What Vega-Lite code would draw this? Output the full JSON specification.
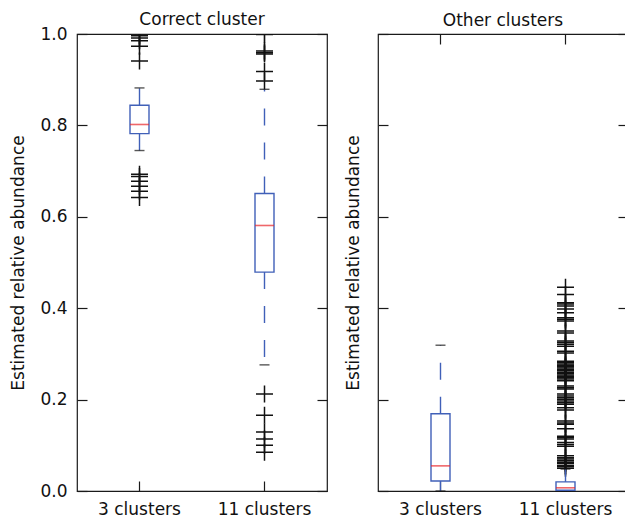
{
  "$schema": "https://vega.github.io/schema/vega-lite/v6.json",
  "padding": {"left": 9, "top": 10, "right": 0, "bottom": 0},
  "config": {
    "font": "DejaVu Sans",
    "view": {"stroke": "#1a1a1a", "strokeWidth": 1.2},
    "axis": {
      "labelFont": "DejaVu Sans",
      "labelFontSize": 17,
      "labelColor": "#111",
      "titleFont": "DejaVu Sans",
      "titleFontSize": 17,
      "titleFontWeight": "normal",
      "titleColor": "#111",
      "domain": false,
      "grid": false,
      "tickColor": "#1a1a1a",
      "tickWidth": 1.2,
      "tickSize": -10
    },
    "title": {"font": "DejaVu Sans", "fontSize": 17, "fontWeight": "normal", "color": "#111", "offset": 3}
  },
  "datasets": {
    "boxCorrect": [
      {"group": "3 clusters", "lower": 0.745, "q1": 0.782, "median": 0.802, "q3": 0.844, "upper": 0.882},
      {"group": "11 clusters", "lower": 0.276, "q1": 0.479, "median": 0.581, "q3": 0.651, "upper": 0.879}
    ],
    "outCorrect": [
      {"group": "3 clusters", "value": 0.996},
      {"group": "3 clusters", "value": 0.991},
      {"group": "3 clusters", "value": 0.985},
      {"group": "3 clusters", "value": 0.973},
      {"group": "3 clusters", "value": 0.941},
      {"group": "3 clusters", "value": 0.693},
      {"group": "3 clusters", "value": 0.688},
      {"group": "3 clusters", "value": 0.678},
      {"group": "3 clusters", "value": 0.667},
      {"group": "3 clusters", "value": 0.656},
      {"group": "3 clusters", "value": 0.642},
      {"group": "11 clusters", "value": 0.999},
      {"group": "11 clusters", "value": 0.963},
      {"group": "11 clusters", "value": 0.959},
      {"group": "11 clusters", "value": 0.956},
      {"group": "11 clusters", "value": 0.918},
      {"group": "11 clusters", "value": 0.897},
      {"group": "11 clusters", "value": 0.212},
      {"group": "11 clusters", "value": 0.166},
      {"group": "11 clusters", "value": 0.129},
      {"group": "11 clusters", "value": 0.114},
      {"group": "11 clusters", "value": 0.100},
      {"group": "11 clusters", "value": 0.085}
    ],
    "boxOther": [
      {"group": "3 clusters", "lower": 0.0, "q1": 0.022, "median": 0.055, "q3": 0.169, "upper": 0.319},
      {"group": "11 clusters", "lower": 0.0, "q1": 0.0015, "median": 0.007, "q3": 0.020, "upper": 0.048}
    ],
    "outOther": [
      {"group": "11 clusters", "value": 0.446},
      {"group": "11 clusters", "value": 0.430},
      {"group": "11 clusters", "value": 0.412},
      {"group": "11 clusters", "value": 0.409},
      {"group": "11 clusters", "value": 0.405},
      {"group": "11 clusters", "value": 0.398},
      {"group": "11 clusters", "value": 0.390},
      {"group": "11 clusters", "value": 0.379},
      {"group": "11 clusters", "value": 0.376},
      {"group": "11 clusters", "value": 0.372},
      {"group": "11 clusters", "value": 0.350},
      {"group": "11 clusters", "value": 0.346},
      {"group": "11 clusters", "value": 0.328},
      {"group": "11 clusters", "value": 0.325},
      {"group": "11 clusters", "value": 0.321},
      {"group": "11 clusters", "value": 0.317},
      {"group": "11 clusters", "value": 0.306},
      {"group": "11 clusters", "value": 0.302},
      {"group": "11 clusters", "value": 0.284},
      {"group": "11 clusters", "value": 0.281},
      {"group": "11 clusters", "value": 0.278},
      {"group": "11 clusters", "value": 0.275},
      {"group": "11 clusters", "value": 0.272},
      {"group": "11 clusters", "value": 0.269},
      {"group": "11 clusters", "value": 0.266},
      {"group": "11 clusters", "value": 0.263},
      {"group": "11 clusters", "value": 0.260},
      {"group": "11 clusters", "value": 0.257},
      {"group": "11 clusters", "value": 0.254},
      {"group": "11 clusters", "value": 0.251},
      {"group": "11 clusters", "value": 0.248},
      {"group": "11 clusters", "value": 0.245},
      {"group": "11 clusters", "value": 0.241},
      {"group": "11 clusters", "value": 0.230},
      {"group": "11 clusters", "value": 0.226},
      {"group": "11 clusters", "value": 0.223},
      {"group": "11 clusters", "value": 0.212},
      {"group": "11 clusters", "value": 0.208},
      {"group": "11 clusters", "value": 0.204},
      {"group": "11 clusters", "value": 0.201},
      {"group": "11 clusters", "value": 0.197},
      {"group": "11 clusters", "value": 0.193},
      {"group": "11 clusters", "value": 0.190},
      {"group": "11 clusters", "value": 0.182},
      {"group": "11 clusters", "value": 0.177},
      {"group": "11 clusters", "value": 0.153},
      {"group": "11 clusters", "value": 0.149},
      {"group": "11 clusters", "value": 0.146},
      {"group": "11 clusters", "value": 0.136},
      {"group": "11 clusters", "value": 0.120},
      {"group": "11 clusters", "value": 0.117},
      {"group": "11 clusters", "value": 0.114},
      {"group": "11 clusters", "value": 0.106},
      {"group": "11 clusters", "value": 0.102},
      {"group": "11 clusters", "value": 0.098},
      {"group": "11 clusters", "value": 0.077},
      {"group": "11 clusters", "value": 0.073},
      {"group": "11 clusters", "value": 0.070},
      {"group": "11 clusters", "value": 0.066},
      {"group": "11 clusters", "value": 0.063},
      {"group": "11 clusters", "value": 0.060},
      {"group": "11 clusters", "value": 0.056},
      {"group": "11 clusters", "value": 0.053},
      {"group": "11 clusters", "value": 0.050}
    ]
  },
  "spacing": 51,
  "bounds": "flush",
  "hconcat": [
    {
      "title": {"text": "Correct cluster", "offset": -4},
      "width": 250,
      "height": 457,
      "layer": [
        {
          "data": {"name": "outCorrect"},
          "mark": {"type": "point", "shape": "M-1,0L1,0M0,-1L0,1", "size": 289, "filled": false, "stroke": "#111", "strokeWidth": 1.5, "opacity": 1, "clip": true},
          "encoding": {
            "x": {"field": "group", "type": "nominal", "scale": {"domain": ["3 clusters", "11 clusters"], "paddingInner": 0, "paddingOuter": 0}, "axis": null},
            "y": {"field": "value", "type": "quantitative", "scale": {"domain": [0, 1], "nice": false}, "axis": null}
          }
        },
        {
          "data": {"name": "boxCorrect"},
          "mark": {"type": "rule", "color": "#4060b8", "strokeWidth": 1.4, "strokeDash": [17, 17]},
          "encoding": {
            "x": {"field": "group", "type": "nominal", "axis": null},
            "y": {"field": "q3", "type": "quantitative", "axis": {"orient": "left", "title": "Estimated relative abundance", "values": [0, 0.2, 0.4, 0.6, 0.8, 1], "format": ".1f", "labelPadding": 20, "titlePadding": 12}},
            "y2": {"field": "upper"}
          }
        },
        {
          "data": {"name": "boxCorrect"},
          "mark": {"type": "rule", "color": "#4060b8", "strokeWidth": 1.4, "strokeDash": [17, 17]},
          "encoding": {
            "x": {"field": "group", "type": "nominal", "axis": null},
            "y": {"field": "q1", "type": "quantitative", "axis": {"orient": "right", "title": null, "labels": false, "values": [0, 0.2, 0.4, 0.6, 0.8, 1]}},
            "y2": {"field": "lower"}
          }
        },
        {
          "data": {"name": "boxCorrect"},
          "mark": {"type": "tick", "color": "#111", "size": 10, "thickness": 1.4},
          "encoding": {
            "x": {"field": "group", "type": "nominal", "axis": null},
            "y": {"field": "upper", "type": "quantitative", "axis": null}
          }
        },
        {
          "data": {"name": "boxCorrect"},
          "mark": {"type": "tick", "color": "#111", "size": 10, "thickness": 1.4},
          "encoding": {
            "x": {"field": "group", "type": "nominal", "axis": null},
            "y": {"field": "lower", "type": "quantitative", "axis": null}
          }
        },
        {
          "data": {"name": "boxCorrect"},
          "mark": {"type": "bar", "fill": "white", "stroke": "#4060b8", "strokeWidth": 1.4, "size": 19},
          "encoding": {
            "x": {"field": "group", "type": "nominal", "axis": {"orient": "bottom", "title": null, "labelAngle": 0, "labelPadding": 20}},
            "y": {"field": "q1", "type": "quantitative", "axis": null},
            "y2": {"field": "q3"}
          }
        },
        {
          "data": {"name": "boxCorrect"},
          "mark": {"type": "tick", "color": "#e8262b", "size": 19, "thickness": 1.6},
          "encoding": {
            "x": {"field": "group", "type": "nominal", "axis": {"orient": "top", "title": null, "labels": false}},
            "y": {"field": "median", "type": "quantitative", "axis": null}
          }
        }
      ],
      "resolve": {"axis": {"x": "independent", "y": "independent"}}
    },
    {
      "title": "Other clusters",
      "width": 250,
      "height": 457,
      "layer": [
        {
          "data": {"name": "outOther"},
          "mark": {"type": "point", "shape": "M-1,0L1,0M0,-1L0,1", "size": 289, "filled": false, "stroke": "#111", "strokeWidth": 1.5, "opacity": 1, "clip": true},
          "encoding": {
            "x": {"field": "group", "type": "nominal", "scale": {"domain": ["3 clusters", "11 clusters"], "paddingInner": 0, "paddingOuter": 0}, "axis": null},
            "y": {"field": "value", "type": "quantitative", "scale": {"domain": [0, 1], "nice": false}, "axis": null}
          }
        },
        {
          "data": {"name": "boxOther"},
          "mark": {"type": "rule", "color": "#4060b8", "strokeWidth": 1.4, "strokeDash": [17, 17]},
          "encoding": {
            "x": {"field": "group", "type": "nominal", "axis": null},
            "y": {"field": "q3", "type": "quantitative", "axis": {"orient": "left", "title": "Estimated relative abundance", "labels": false, "values": [0, 0.2, 0.4, 0.6, 0.8, 1], "titlePadding": 15}},
            "y2": {"field": "upper"}
          }
        },
        {
          "data": {"name": "boxOther"},
          "mark": {"type": "rule", "color": "#4060b8", "strokeWidth": 1.4, "strokeDash": [17, 17]},
          "encoding": {
            "x": {"field": "group", "type": "nominal", "axis": null},
            "y": {"field": "q1", "type": "quantitative", "axis": {"orient": "right", "title": null, "labels": false, "values": [0, 0.2, 0.4, 0.6, 0.8, 1]}},
            "y2": {"field": "lower"}
          }
        },
        {
          "data": {"name": "boxOther"},
          "mark": {"type": "tick", "color": "#111", "size": 10, "thickness": 1.4},
          "encoding": {
            "x": {"field": "group", "type": "nominal", "axis": null},
            "y": {"field": "upper", "type": "quantitative", "axis": null}
          }
        },
        {
          "data": {"name": "boxOther"},
          "mark": {"type": "tick", "color": "#111", "size": 10, "thickness": 1.4},
          "encoding": {
            "x": {"field": "group", "type": "nominal", "axis": null},
            "y": {"field": "lower", "type": "quantitative", "axis": null}
          }
        },
        {
          "data": {"name": "boxOther"},
          "mark": {"type": "bar", "fill": "white", "stroke": "#4060b8", "strokeWidth": 1.4, "size": 19},
          "encoding": {
            "x": {"field": "group", "type": "nominal", "axis": {"orient": "bottom", "title": null, "labelAngle": 0, "labelPadding": 20}},
            "y": {"field": "q1", "type": "quantitative", "axis": null},
            "y2": {"field": "q3"}
          }
        },
        {
          "data": {"name": "boxOther"},
          "mark": {"type": "tick", "color": "#e8262b", "size": 19, "thickness": 1.6},
          "encoding": {
            "x": {"field": "group", "type": "nominal", "axis": {"orient": "top", "title": null, "labels": false}},
            "y": {"field": "median", "type": "quantitative", "axis": null}
          }
        }
      ],
      "resolve": {"axis": {"x": "independent", "y": "independent"}}
    }
  ]
}
